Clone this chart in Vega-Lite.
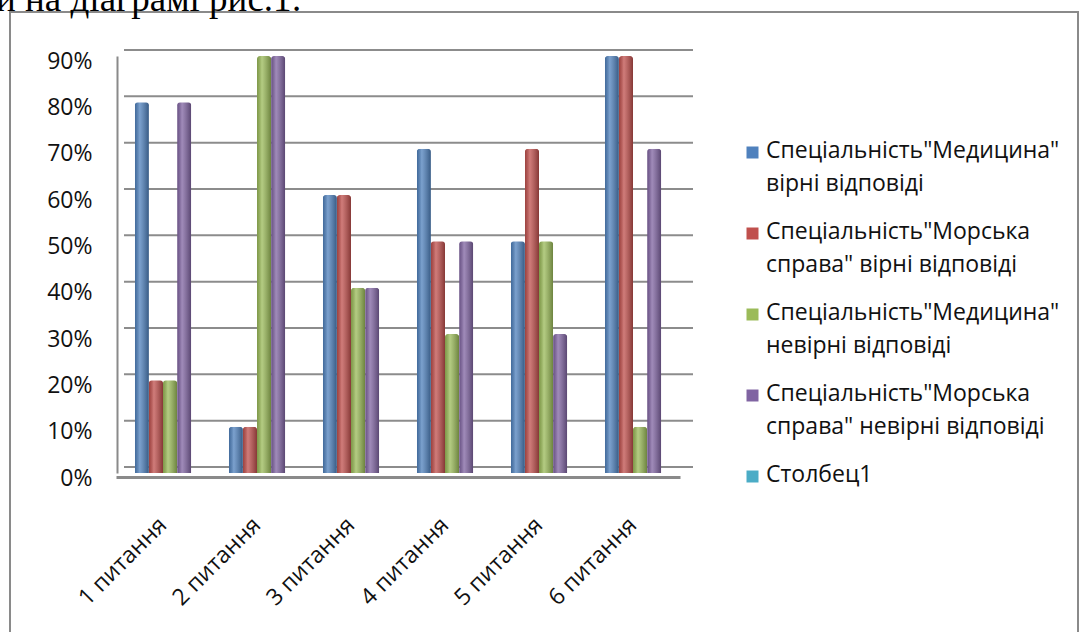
{
  "$schema": "https://vega.github.io/schema/vega-lite/v6.json",
  "width": 1068,
  "height": 630,
  "autosize": {"type": "none"},
  "padding": {"left": 10, "top": 12, "right": 3, "bottom": 0},
  "background": "white",
  "title": {"text": "и на діаграмі рис.1:", "anchor": "start", "frame": "group", "font": "Liberation Serif", "fontSize": 37, "fontWeight": "normal", "color": "#000", "baseline": "alphabetic", "offset": 0, "dx": -14, "dy": 36},
  "config": {"view": {"stroke": "#8a8a8a", "strokeWidth": 2}, "font": "Open Sans"},
  "datasets": {
    "answers": [
      {"q": "1 питання", "s": "Спеціальність\"Медицина\"|вірні відповіді", "v": 0.8},
      {"q": "1 питання", "s": "Спеціальність\"Морська|справа\" вірні відповіді", "v": 0.2},
      {"q": "1 питання", "s": "Спеціальність\"Медицина\"|невірні відповіді", "v": 0.2},
      {"q": "1 питання", "s": "Спеціальність\"Морська|справа\" невірні відповіді", "v": 0.8},
      {"q": "2 питання", "s": "Спеціальність\"Медицина\"|вірні відповіді", "v": 0.1},
      {"q": "2 питання", "s": "Спеціальність\"Морська|справа\" вірні відповіді", "v": 0.1},
      {"q": "2 питання", "s": "Спеціальність\"Медицина\"|невірні відповіді", "v": 0.9},
      {"q": "2 питання", "s": "Спеціальність\"Морська|справа\" невірні відповіді", "v": 0.9},
      {"q": "3 питання", "s": "Спеціальність\"Медицина\"|вірні відповіді", "v": 0.6},
      {"q": "3 питання", "s": "Спеціальність\"Морська|справа\" вірні відповіді", "v": 0.6},
      {"q": "3 питання", "s": "Спеціальність\"Медицина\"|невірні відповіді", "v": 0.4},
      {"q": "3 питання", "s": "Спеціальність\"Морська|справа\" невірні відповіді", "v": 0.4},
      {"q": "4 питання", "s": "Спеціальність\"Медицина\"|вірні відповіді", "v": 0.7},
      {"q": "4 питання", "s": "Спеціальність\"Морська|справа\" вірні відповіді", "v": 0.5},
      {"q": "4 питання", "s": "Спеціальність\"Медицина\"|невірні відповіді", "v": 0.3},
      {"q": "4 питання", "s": "Спеціальність\"Морська|справа\" невірні відповіді", "v": 0.5},
      {"q": "5 питання", "s": "Спеціальність\"Медицина\"|вірні відповіді", "v": 0.5},
      {"q": "5 питання", "s": "Спеціальність\"Морська|справа\" вірні відповіді", "v": 0.7},
      {"q": "5 питання", "s": "Спеціальність\"Медицина\"|невірні відповіді", "v": 0.5},
      {"q": "5 питання", "s": "Спеціальність\"Морська|справа\" невірні відповіді", "v": 0.3},
      {"q": "6 питання", "s": "Спеціальність\"Медицина\"|вірні відповіді", "v": 0.9},
      {"q": "6 питання", "s": "Спеціальність\"Морська|справа\" вірні відповіді", "v": 0.9},
      {"q": "6 питання", "s": "Спеціальність\"Медицина\"|невірні відповіді", "v": 0.1},
      {"q": "6 питання", "s": "Спеціальність\"Морська|справа\" невірні відповіді", "v": 0.7}
    ],
    "grid": [
      {"v": 0}, {"v": 0.1}, {"v": 0.2}, {"v": 0.3}, {"v": 0.4},
      {"v": 0.5}, {"v": 0.6}, {"v": 0.7}, {"v": 0.8}, {"v": 0.9}
    ]
  },
  "layer": [
    {
      "data": {"name": "grid"},
      "mark": {"type": "rule", "color": "#8c8c8c", "strokeWidth": 2},
      "encoding": {
        "x": {"datum": 0, "type": "quantitative", "scale": {"domain": [0, 1], "range": [114, 683]}, "axis": null},
        "x2": {"datum": 1},
        "y": {"field": "v", "type": "quantitative", "scale": {"domain": [0, 0.9], "range": [455, 38], "nice": false}, "axis": null}
      }
    },
    {
      "data": {"name": "answers"},
      "encoding": {
        "x": {
          "field": "q", "type": "nominal", "sort": null,
          "scale": {"range": [106, 670], "paddingInner": 0.4, "paddingOuter": 0.2},
          "axis": {"title": null, "offset": -165, "labelAngle": -45, "labelAlign": "right", "labelBaseline": "middle", "ticks": false, "labelPadding": 44, "labelFontSize": 23, "labelFont": "Open Sans", "labelColor": "#111", "domainColor": "#8a8a8a", "domainWidth": 3}
        },
        "xOffset": {"field": "s", "type": "nominal", "sort": null, "scale": {"paddingInner": 0, "paddingOuter": 0}},
        "y": {
          "field": "v", "type": "quantitative",
          "scale": {"domain": [0, 0.9], "range": [461, 44], "nice": false},
          "axis": {"title": null, "format": ".0%", "values": [0, 0.1, 0.2, 0.3, 0.4, 0.5, 0.6, 0.7, 0.8, 0.9], "offset": -107, "ticks": false, "labelPadding": 25, "labelOffset": 5, "labelFontSize": 23, "labelFont": "Open Sans", "labelColor": "#111", "domainColor": "#8a8a8a", "domainWidth": 2, "grid": false}
        }
      },
      "layer": [
        {
          "mark": {"type": "bar", "cornerRadiusTopLeft": 3, "cornerRadiusTopRight": 3},
          "encoding": {
            "color": {
              "field": "s", "type": "nominal",
              "scale": {
                "domain": ["Спеціальність\"Медицина\"|вірні відповіді", "Спеціальність\"Морська|справа\" вірні відповіді", "Спеціальність\"Медицина\"|невірні відповіді", "Спеціальність\"Морська|справа\" невірні відповіді", "Столбец1"],
                "range": ["#4F81BD", "#C0504D", "#9BBB59", "#8064A2", "#4BACC6"]
              },
              "legend": {
                "title": null, "orient": "none", "legendX": 731, "legendY": 129,
                "symbolType": "square", "symbolSize": 144, "symbolStrokeWidth": 0,
                "labelFontSize": 23, "labelFont": "Open Sans", "labelColor": "#111", "labelOffset": 2, "labelLimit": 400,
                "labelBaseline": "top", "labelExpr": "split(datum.label, '|')", "rowPadding": 24,
                "encode": {"labels": {"update": {"lineHeight": {"value": 33}, "dy": {"value": -13}}}}
              }
            }
          }
        },
        {
          "mark": {
            "type": "bar", "cornerRadiusTopLeft": 3, "cornerRadiusTopRight": 3,
            "fill": {"gradient": "linear", "x1": 0, "x2": 1, "y1": 0, "y2": 0, "stops": [
              {"offset": 0, "color": "rgba(0,0,0,0.18)"},
              {"offset": 0.35, "color": "rgba(255,255,255,0.25)"},
              {"offset": 1, "color": "rgba(0,0,0,0.3)"}
            ]}
          }
        }
      ]
    }
  ],
  "resolve": {"scale": {"x": "independent", "y": "independent"}}
}
